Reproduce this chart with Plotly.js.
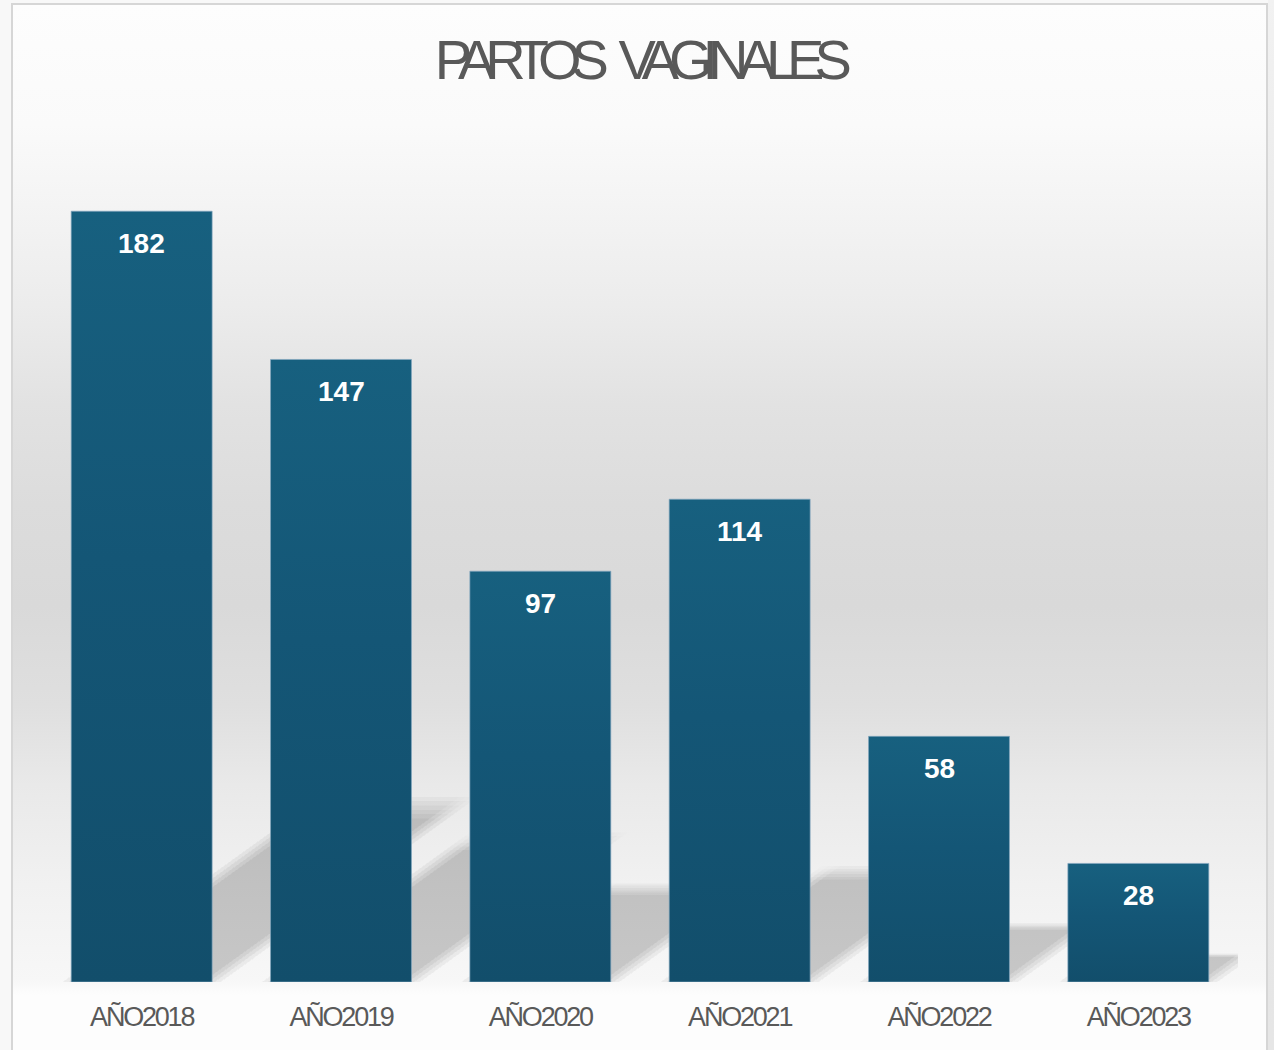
<!DOCTYPE html>
<html>
<head>
<meta charset="utf-8">
<script src="https://cdn.plot.ly/plotly-3.0.1.min.js"></script>
<style>
  html, body { margin:0; padding:0; width:1274px; height:1050px; overflow:hidden; background:#f8f8f8; }
  #strip { position:absolute; left:1268px; top:0; width:6px; height:1050px; background:linear-gradient(#f2f2f2 0px, #e9e9e9 300px, #e6e6e6 1050px); }
  #frame { position:absolute; left:11px; top:3px; width:1253px; height:1060px; border:2px solid #d6d6d6;
    background:linear-gradient(to bottom,
      #fdfdfd 0px, #fafafa 120px, #f4f4f4 200px, #ececec 300px, #e2e2e2 400px, #dcdcdc 500px,
      #d9d9d9 600px, #dfdfdf 700px, #e9e9e9 780px, #f1f1f1 880px, #f7f7f7 975px, #fdfdfd 990px, #fdfdfd 1060px); }
  #chart { position:absolute; left:0; top:0; width:1274px; height:1050px; }
  .gtitle { letter-spacing:-10px; word-spacing:14px; }
  .xtick text { letter-spacing:-2.2px; }
</style>
</head>
<body>
<div id="strip"></div>
<div id="frame"></div>
<div id="chart"></div>
<script>
// ---- data ----
var categories = ["AÑO2018", "AÑO2019", "AÑO2020", "AÑO2021", "AÑO2022", "AÑO2023"];
var values = [182, 147, 97, 114, 58, 28];
var chartTitle = "PARTOS VAGINALES";

// ---- layout helpers ----
var halfW = 0.3535;           // half bar width in category units
var shadowDx = 0.00682;       // horizontal shadow offset per unit of value (category units)
var shadowDy = 0.231;         // vertical shadow height per unit of value (value units)

var shapes = [];
var xOffsets = [-0.045, -0.015, 0.015, 0.045];
var hScales = [0.92, 0.944, 0.968, 0.992, 1.016, 1.04];
values.forEach(function (v, i) {
  xOffsets.forEach(function (o) {
    hScales.forEach(function (hs) {
      var x0 = i - halfW + o, x1 = i + halfW + o;
      var dx = v * shadowDx * hs, h = v * shadowDy * hs;
      shapes.push({
        type: 'path', xref: 'x', yref: 'y', layer: 'below',
        path: 'M' + x0 + ',0 L' + x1 + ',0 L' + (x1 + dx) + ',' + h + ' L' + (x0 + dx) + ',' + h + ' Z',
        fillcolor: 'rgba(0,0,0,0.0078)', line: { width: 0 }
      });
    });
  });
});

var annotations = values.map(function (v, i) {
  return {
    x: categories[i], y: v, xref: 'x', yref: 'y', text: String(v), showarrow: false,
    yanchor: 'middle', yshift: -32,
    font: { family: 'Liberation Sans, Arial, sans-serif', size: 28, color: '#ffffff', weight: 'bold' }
  };
});

var data = [{
  type: 'bar', x: categories, y: values,
  marker: { color: '#145677', line: { color: 'rgba(130,165,190,0.7)', width: 1 } },
  hoverinfo: 'none'
}];

var layout = {
  width: 1274, height: 1050,
  margin: { l: 42, r: 36, t: 135, b: 68 },
  paper_bgcolor: 'rgba(0,0,0,0)', plot_bgcolor: 'rgba(0,0,0,0)',
  bargap: 0.293,
  showlegend: false,
  title: {
    text: chartTitle, xref: 'container', yref: 'container', automargin: false,
    x: 0.501, xanchor: 'center', y: 0.9625, yanchor: 'top',
    font: { family: 'Liberation Sans, Arial, sans-serif', size: 56, color: '#595959' }
  },
  xaxis: {
    type: 'category', range: [-0.5, categories.length - 0.5], autorange: false,
    automargin: false, showgrid: false, zeroline: false, showline: false, ticks: '',
    ticklabelstandoff: 16,
    tickfont: { family: 'Liberation Sans, Arial, sans-serif', size: 27, color: '#595959' }
  },
  yaxis: { range: [0, 200], autorange: false, automargin: false, visible: false, showgrid: false, zeroline: false },
  shapes: shapes,
  annotations: annotations
};

var gd = document.getElementById('chart');
Plotly.newPlot(gd, data, layout, { staticPlot: true, displayModeBar: false }).then(function () {
  var ns = 'http://www.w3.org/2000/svg';
  var svg = gd.querySelector('svg.main-svg');
  var defs = svg.querySelector('defs') || svg.insertBefore(document.createElementNS(ns, 'defs'), svg.firstChild);
  var grad = document.createElementNS(ns, 'linearGradient');
  grad.setAttribute('id', 'barGrad');
  grad.setAttribute('x1', '0'); grad.setAttribute('y1', '0');
  grad.setAttribute('x2', '0'); grad.setAttribute('y2', '1');
  [['0', '#17607f'], ['0.45', '#145676'], ['1', '#124e6b']].forEach(function (s) {
    var st = document.createElementNS(ns, 'stop');
    st.setAttribute('offset', s[0]); st.setAttribute('stop-color', s[1]);
    grad.appendChild(st);
  });
  defs.appendChild(grad);
  gd.querySelectorAll('.bars .point path').forEach(function (p) { p.style.fill = 'url(#barGrad)'; });
});
</script>
</body>
</html>
